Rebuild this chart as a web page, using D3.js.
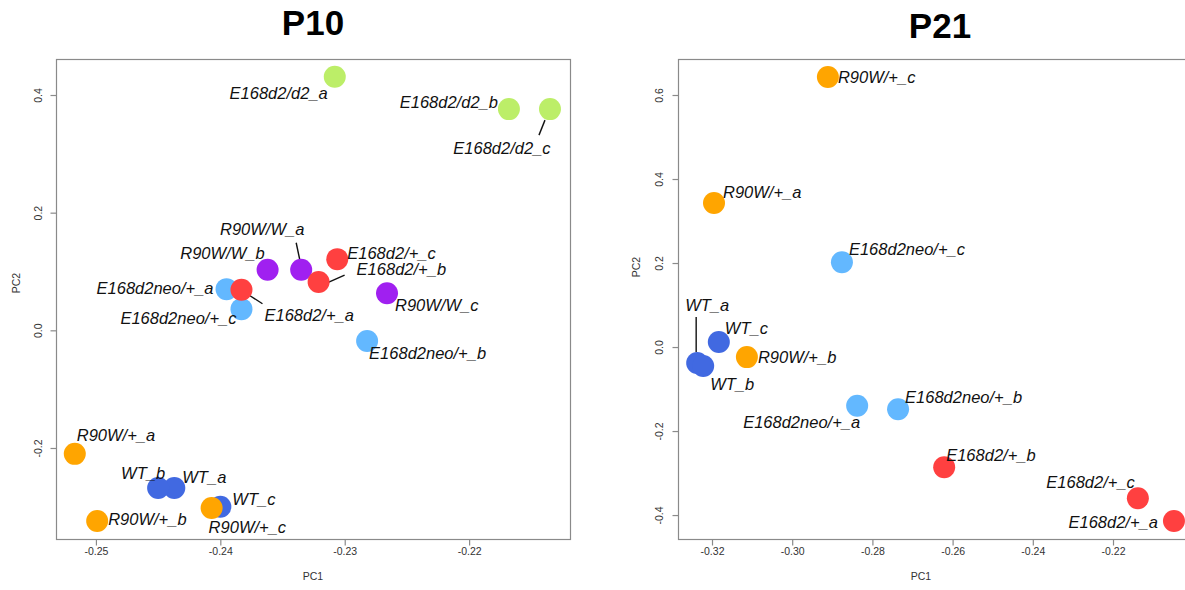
<!DOCTYPE html>
<html>
<head>
<meta charset="utf-8">
<script src="https://cdn.jsdelivr.net/npm/d3@7"></script>
<style>
  html, body { margin: 0; padding: 0; background: #fff; }
  svg { display: block; }
  .lbl { font-family: "Liberation Sans", Arial, Helvetica, sans-serif; font-style: italic; font-size: 16.5px; fill: #111; }
  .tick { font-family: "Liberation Sans", Arial, Helvetica, sans-serif; font-size: 10.5px; fill: #333; }
  .axt { font-family: "Liberation Sans", Arial, Helvetica, sans-serif; font-size: 10.5px; fill: #333; }
  .ttl { font-family: "Liberation Sans", Arial, Helvetica, sans-serif; font-weight: bold; font-size: 35px; fill: #000; }
</style>
</head>
<body>
<svg id="chart" width="1185" height="590"></svg>
<script>
// ---- P10 samples (PC scores) ----
const p10Samples = ["WT_a", "WT_b", "WT_c",
  "E168d2neo/+_a", "E168d2neo/+_b", "E168d2neo/+_c",
  "R90W/W_a", "R90W/W_b", "R90W/W_c",
  "E168d2/d2_a", "E168d2/d2_b", "E168d2/d2_c",
  "E168d2/+_a", "E168d2/+_b", "E168d2/+_c",
  "R90W/+_a", "R90W/+_b", "R90W/+_c"];
const p10Group = ["WT", "WT", "WT", "E168d2neo/+", "E168d2neo/+", "E168d2neo/+",
  "R90W/W", "R90W/W", "R90W/W", "E168d2/d2", "E168d2/d2", "E168d2/d2",
  "E168d2/+", "E168d2/+", "E168d2/+", "R90W/+", "R90W/+", "R90W/+"];
const p10PC1 = [-0.2437, -0.2450, -0.2400,
  -0.2395, -0.2282, -0.2383,
  -0.2335, -0.2362, -0.2266,
  -0.2308, -0.2168, -0.2135,
  -0.2383, -0.2321, -0.2306,
  -0.2517, -0.2499, -0.2407];
const p10PC2 = [-0.268, -0.268, -0.300,
  0.070, -0.018, 0.036,
  0.103, 0.103, 0.063,
  0.431, 0.376, 0.376,
  0.069, 0.082, 0.121,
  -0.210, -0.324, -0.302];
const p10XTicks = [-0.25, -0.24, -0.23, -0.22];
const p10YTicks = [-0.2, 0.0, 0.2, 0.4];

// ---- P21 samples (PC scores) ----
const p21Samples = ["WT_a", "WT_b", "WT_c",
  "E168d2neo/+_a", "E168d2neo/+_b", "E168d2neo/+_c",
  "E168d2/+_a", "E168d2/+_b", "E168d2/+_c",
  "R90W/+_a", "R90W/+_b", "R90W/+_c"];
const p21Group = ["WT", "WT", "WT", "E168d2neo/+", "E168d2neo/+", "E168d2neo/+",
  "E168d2/+", "E168d2/+", "E168d2/+", "R90W/+", "R90W/+", "R90W/+"];
const p21PC1 = [-0.3237, -0.3222, -0.3183,
  -0.2838, -0.2736, -0.2876,
  -0.2048, -0.2621, -0.2138,
  -0.3195, -0.3113, -0.2911];
const p21PC2 = [-0.038, -0.045, 0.012,
  -0.140, -0.148, 0.202,
  -0.414, -0.286, -0.360,
  0.343, -0.024, 0.643];
const p21XTicks = [-0.32, -0.30, -0.28, -0.26, -0.24, -0.22];
const p21YTicks = [-0.4, -0.2, 0.0, 0.2, 0.4, 0.6];

// group colours
const groupColor = {
  "WT": "#4169E1",
  "E168d2neo/+": "#63B8FF",
  "R90W/W": "#A020F0",
  "E168d2/d2": "#BCEE68",
  "E168d2/+": "#FF4040",
  "R90W/+": "#FFA500"
};

// label placement relative to each point: [dx, dy, anchor, leader line or null]
const p10LabelPos = [
  [8, -11, "start", null], [7, -15, "end", null], [12, -8, "start", null],
  [-13, -1, "end", null], [2, 12, "start", null], [-5, 9, "end", null],
  [-39, -41, "middle", [-5, -27, -1, -8]], [-3, -17, "end", null], [8, 12, "start", null],
  [-7, 16, "end", null], [-11, -7, "end", null], [-48, 39, "middle", [-5, 11, -11, 26]],
  [23, 25, "start", [7, 5, 21, 14]], [38, -13, "start", [8, 1, 26, -7]], [10, -6, "start", null],
  [2, -19, "start", null], [11, -2, "start", null], [-3, 19, "start", null]
];
const p21LabelPos = [
  [10, -58, "middle", [-1, -46, -1, -11]], [7, 18, "start", null], [6, -14, "start", null],
  [3, 16, "end", null], [7, -12, "start", null], [7, -13, "start", null],
  [-16, 1, "end", null], [2, -12, "start", null], [-3, -16, "end", null],
  [9, -11, "start", null], [11, 0, "start", null], [10, 0, "start", null]
];

const svg = d3.select("#chart");

function panel(cfg) {
  const x = d3.scaleLinear().domain(cfg.xDomain).range([cfg.left, cfg.right]);
  const y = d3.scaleLinear().domain(cfg.yDomain).range([cfg.bottom, cfg.top]);
  const g = svg.append("g");
  const clipId = "clip-" + cfg.id;
  g.append("clipPath").attr("id", clipId).append("rect")
    .attr("x", cfg.left).attr("y", cfg.top)
    .attr("width", cfg.right - cfg.left).attr("height", cfg.bottom - cfg.top);

  // frame
  g.append("rect")
    .attr("x", cfg.left + 0.5).attr("y", cfg.top + 0.5)
    .attr("width", cfg.right - cfg.left).attr("height", cfg.bottom - cfg.top)
    .attr("fill", "none").attr("stroke", "#8a8a8a").attr("stroke-width", 1.2);

  // x axis
  const xAxis = d3.axisBottom(x).tickValues(cfg.xTicks).tickSize(6).tickPadding(6)
    .tickFormat(d => d3.format(cfg.xFmt)(d).replace("−", "-"));
  const xa = g.append("g").attr("transform", `translate(0,${cfg.bottom + 0.5})`).call(xAxis);
  xa.select(".domain").remove();
  xa.selectAll("line").attr("stroke", "#8a8a8a").attr("stroke-width", 1.2);
  xa.selectAll("text").attr("class", "tick").attr("font-family", null).attr("font-size", null)
    .attr("fill", null).attr("y", 12).attr("dy", "0.35em");

  // y axis with rotated labels
  const yAxis = d3.axisLeft(y).tickValues(cfg.yTicks).tickSize(6).tickPadding(0)
    .tickFormat(d => d3.format(".1f")(d).replace("−", "-"));
  const ya = g.append("g").attr("transform", `translate(${cfg.left + 0.5},0)`).call(yAxis);
  ya.select(".domain").remove();
  ya.selectAll("line").attr("stroke", "#8a8a8a").attr("stroke-width", 1.2);
  ya.selectAll("text").attr("class", "tick").attr("font-family", null).attr("font-size", null)
    .attr("fill", null).attr("x", null).attr("dy", null)
    .attr("text-anchor", "middle")
    .attr("transform", `translate(${cfg.yLabelX - cfg.left},0) rotate(-90)`);

  // axis titles
  g.append("text").attr("class", "axt").attr("x", cfg.xTitleX).attr("y", 580)
    .attr("text-anchor", "middle").text("PC1");
  g.append("text").attr("class", "axt")
    .attr("transform", `translate(${cfg.yTitleX},${cfg.yTitleY}) rotate(-90)`)
    .attr("text-anchor", "middle").attr("dy", "0.35em").text("PC2");

  // title
  g.append("text").attr("class", "ttl").attr("x", cfg.titleX).attr("y", cfg.titleY)
    .attr("text-anchor", "middle").text(cfg.title);

  const rows = cfg.samples.map((s, i) => ({
    name: s, group: cfg.group[i], pc1: cfg.pc1[i], pc2: cfg.pc2[i], pos: cfg.labelPos[i]
  }));

  const plot = g.append("g").attr("clip-path", `url(#${clipId})`);

  // leader lines
  plot.selectAll("line.lead").data(rows.filter(d => d.pos[3]))
    .join("line").attr("class", "lead")
    .attr("x1", d => x(d.pc1) + d.pos[3][0]).attr("y1", d => y(d.pc2) + d.pos[3][1])
    .attr("x2", d => x(d.pc1) + d.pos[3][2]).attr("y2", d => y(d.pc2) + d.pos[3][3])
    .attr("stroke", "#111").attr("stroke-width", 1.4);

  // points
  plot.selectAll("circle").data(rows).join("circle")
    .attr("cx", d => x(d.pc1)).attr("cy", d => y(d.pc2)).attr("r", 11)
    .attr("fill", d => groupColor[d.group]);

  // sample labels
  plot.selectAll("text.lbl").data(rows).join("text").attr("class", "lbl")
    .attr("x", d => x(d.pc1) + d.pos[0]).attr("y", d => y(d.pc2) + d.pos[1])
    .attr("dy", "0.35em").attr("text-anchor", d => d.pos[2])
    .text(d => d.name);
}

panel({
  id: "p10", title: "P10", titleX: 313, titleY: 35,
  left: 56, right: 570, top: 59, bottom: 539,
  xDomain: [-0.25321, -0.21189], yDomain: [-0.3547, 0.4612],
  xTicks: p10XTicks, yTicks: p10YTicks, xFmt: ".2f",
  yLabelX: 41, xTitleX: 313, yTitleX: 16, yTitleY: 283,
  samples: p10Samples, group: p10Group, pc1: p10PC1, pc2: p10PC2, labelPos: p10LabelPos
});

panel({
  id: "p21", title: "P21", titleX: 940, titleY: 38,
  left: 678, right: 1192, top: 59, bottom: 539,
  xDomain: [-0.32848, -0.20030], yDomain: [-0.457, 0.6857],
  xTicks: p21XTicks, yTicks: p21YTicks, xFmt: ".2f",
  yLabelX: 662, xTitleX: 921, yTitleX: 636, yTitleY: 267,
  samples: p21Samples, group: p21Group, pc1: p21PC1, pc2: p21PC2, labelPos: p21LabelPos
});
</script>
</body>
</html>
